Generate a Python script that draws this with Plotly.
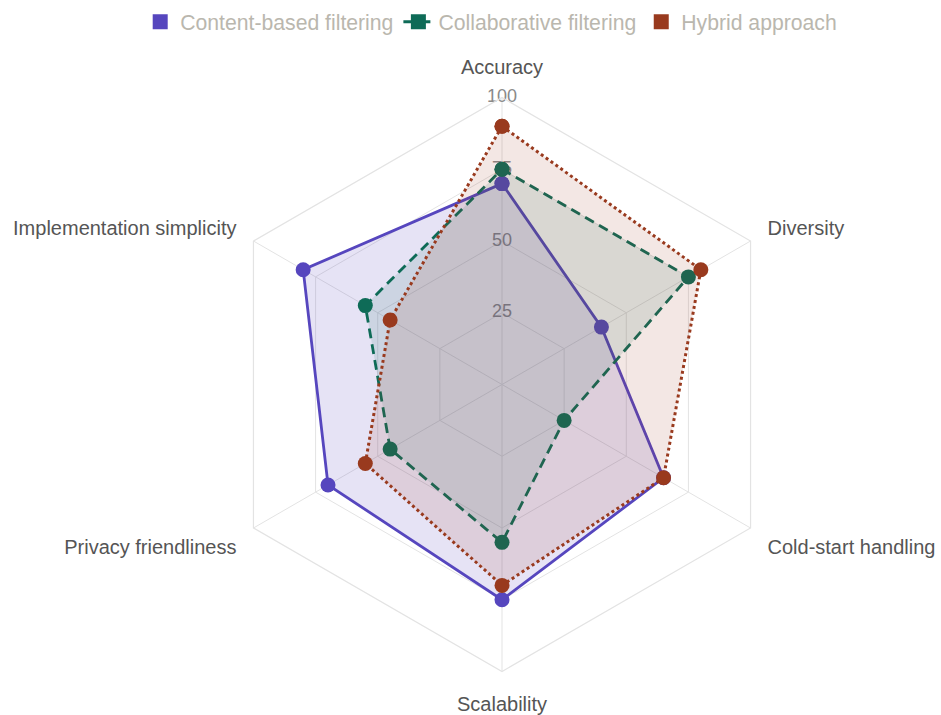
import plotly.graph_objects as go

categories = ["Accuracy", "Diversity", "Cold-start handling", "Scalability",
              "Privacy friendliness", "Implementation simplicity"]
content_based = [70, 40, 65, 75, 70, 80]
collaborative = [75, 75, 25, 55, 45, 55]
hybrid = [90, 80, 65, 70, 55, 45]
tick_values = [25, 50, 75, 100]
tick_labels = ["25", "50", "75", "100"]

series = [
    ("Content-based filtering", content_based, "#5646BE", "rgba(86,70,190,0.15)", "solid", 2.8),
    ("Collaborative filtering", collaborative, "#0E6B57", "rgba(14,107,87,0.12)", "10px,6px", 2.8),
    ("Hybrid approach", hybrid, "#993A1E", "rgba(153,58,30,0.12)", "3px,3px", 3),
]

FONT = "Liberation Sans, Arial, Helvetica, sans-serif"

fig = go.Figure()

# radial tick labels drawn on the Accuracy axis, under the data
fig.add_trace(go.Scatterpolar(
    r=tick_values, theta=[categories[0]] * len(tick_values), mode="text",
    text=tick_labels, textfont=dict(size=18, color="#8a8a8a", family=FONT),
    textposition="middle center", showlegend=False, hoverinfo="skip"))

for name, vals, color, fill, dash, width in series:
    fig.add_trace(go.Scatterpolar(
        r=vals + [vals[0]], theta=categories + [categories[0]],
        mode="lines+markers", fill="toself", fillcolor=fill,
        line=dict(color=color, width=width, dash=dash),
        marker=dict(color=color, size=15),
        name=name, showlegend=False))

# legend entries
for name, vals, color, fill, dash, width in series:
    fig.add_trace(go.Scatterpolar(
        r=[None], theta=[categories[0]],
        mode="lines+markers" if dash == "10px,6px" else "markers",
        line=dict(color=color, width=3, dash="dash"),
        marker=dict(color=color, size=15, symbol="square"),
        name=name, showlegend=True))

fig.update_layout(
    width=941, height=715,
    margin=dict(l=0, r=0, t=0, b=0),
    paper_bgcolor="white",
    font=dict(family=FONT, size=20, color="#555555"),
    showlegend=True,
    legend=dict(orientation="h", x=0.522, xanchor="center", y=0.998, yanchor="top",
                font=dict(size=21.2, color="#bab7ae"), itemwidth=30,
                bgcolor="rgba(0,0,0,0)"),
    polar=dict(
        domain=dict(x=[215 / 941, 789 / 941], y=[1 - 671.5 / 715, 1 - 97.5 / 715]),
        gridshape="linear",
        bgcolor="white",
        radialaxis=dict(range=[0, 100], tickvals=tick_values, showticklabels=False,
                        showline=False, ticks="", gridcolor="#e3e3e3", gridwidth=1.2),
        angularaxis=dict(direction="clockwise", rotation=90, gridcolor="#e3e3e3",
                         gridwidth=1.2, linecolor="#e3e3e3", linewidth=1.2,
                         ticks="outside", ticklen=15, tickcolor="rgba(0,0,0,0)",
                         tickfont=dict(size=20, color="#555555", family=FONT)),
    ),
)

fig.write_html("out.html")
